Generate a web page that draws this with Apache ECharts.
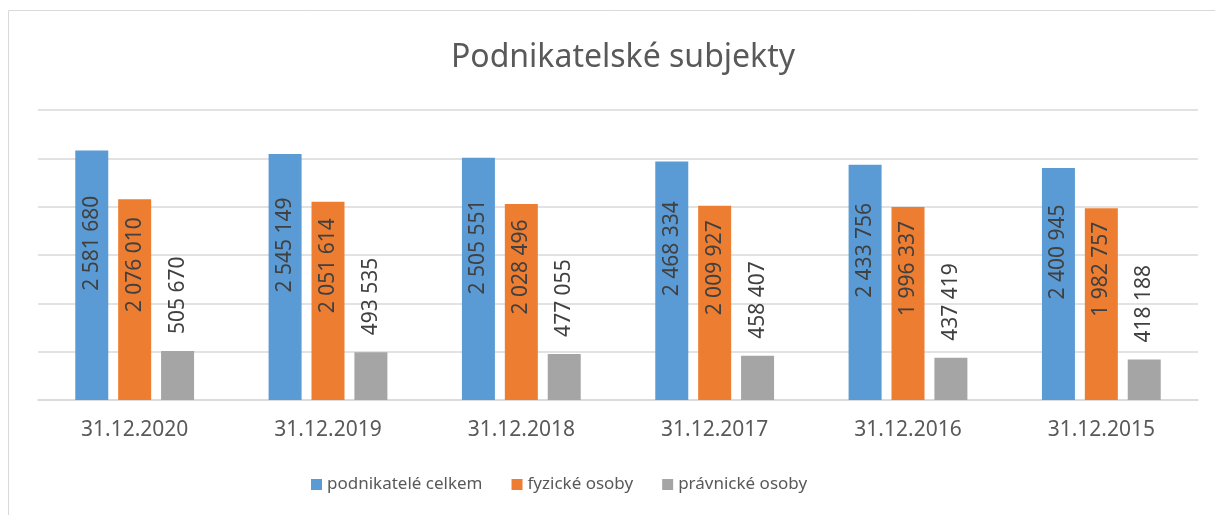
<!DOCTYPE html>
<html><head><meta charset="utf-8">
<script src="https://cdn.jsdelivr.net/npm/echarts@6/dist/echarts.min.js"></script>
<style>html,body{margin:0;padding:0;background:#fff}#c{width:1215px;height:515px}</style>
</head><body><div id="c"></div>
<script>
const categories = ['31.12.2020','31.12.2019','31.12.2018','31.12.2017','31.12.2016','31.12.2015'];
const celkem = [2581680, 2545149, 2505551, 2468334, 2433756, 2400945];
const fyzicke = [2076010, 2051614, 2028496, 2009927, 1996337, 1982757];
const pravnicke = [505670, 493535, 477055, 458407, 437419, 418188];
const seriesNames = ['podnikatelé celkem','fyzické osoby','právnické osoby'];
const yTicks = {min: 0, max: 3000000, interval: 500000};

const fmt = v => String(v).replace(/\B(?=(\d{3})+(?!\d))/g, ' ');
const FONT = 'Noto Sans';
const chart = echarts.init(document.getElementById('c'));
const lblBase = {show: true, rotate: 90, color: '#404040', fontSize: 21, fontFamily: FONT, formatter: p => fmt(p.value)};
chart.setOption({
  animation: false,
  graphic: [{type: 'rect', shape: {x: 8.5, y: 10.5, width: 1400, height: 700}, style: {fill: 'none', stroke: '#d9d9d9', lineWidth: 1}, silent: true}],
  title: {text: 'Podnikatelské subjekty', left: 618, textAlign: 'center', top: 37,
    textStyle: {fontFamily: FONT, fontSize: 32, fontWeight: 'normal', color: '#595959'}},
  legend: {left: 311, top: 476, padding: 0, itemWidth: 11, itemHeight: 11, itemGap: 29,
    icon: 'rect', textStyle: {fontFamily: FONT, fontSize: 17, color: '#595959'}},
  grid: {left: 38, right: 17, top: 110, bottom: 115},
  xAxis: {type: 'category', data: categories,
    axisLine: {lineStyle: {color: '#d9d9d9', width: 1.5}}, axisTick: {show: false},
    axisLabel: {fontFamily: FONT, fontSize: 21, color: '#595959', margin: 20}},
  yAxis: {type: 'value', min: yTicks.min, max: yTicks.max, interval: yTicks.interval,
    axisLabel: {show: false}, axisLine: {show: false}, axisTick: {show: false},
    splitLine: {lineStyle: {color: '#d9d9d9', width: 1.5}}},
  series: [
    {name: seriesNames[0], type: 'bar', data: celkem, barWidth: 33, barGap: '30%',
      itemStyle: {color: '#5b9bd5'},
      label: Object.assign({}, lblBase, {position: 'inside', offset: [32, 0], align: 'center', verticalAlign: 'middle'})},
    {name: seriesNames[1], type: 'bar', data: fyzicke, barWidth: 33, barGap: '30%',
      itemStyle: {color: '#ed7d31'},
      label: Object.assign({}, lblBase, {position: 'inside', offset: [35, 0], align: 'center', verticalAlign: 'middle'})},
    {name: seriesNames[2], type: 'bar', data: pravnicke, barWidth: 33, barGap: '30%',
      itemStyle: {color: '#a5a5a5'},
      label: Object.assign({}, lblBase, {position: 'top', distance: 17, align: 'left', verticalAlign: 'middle'})}
  ]
});
</script></body></html>
